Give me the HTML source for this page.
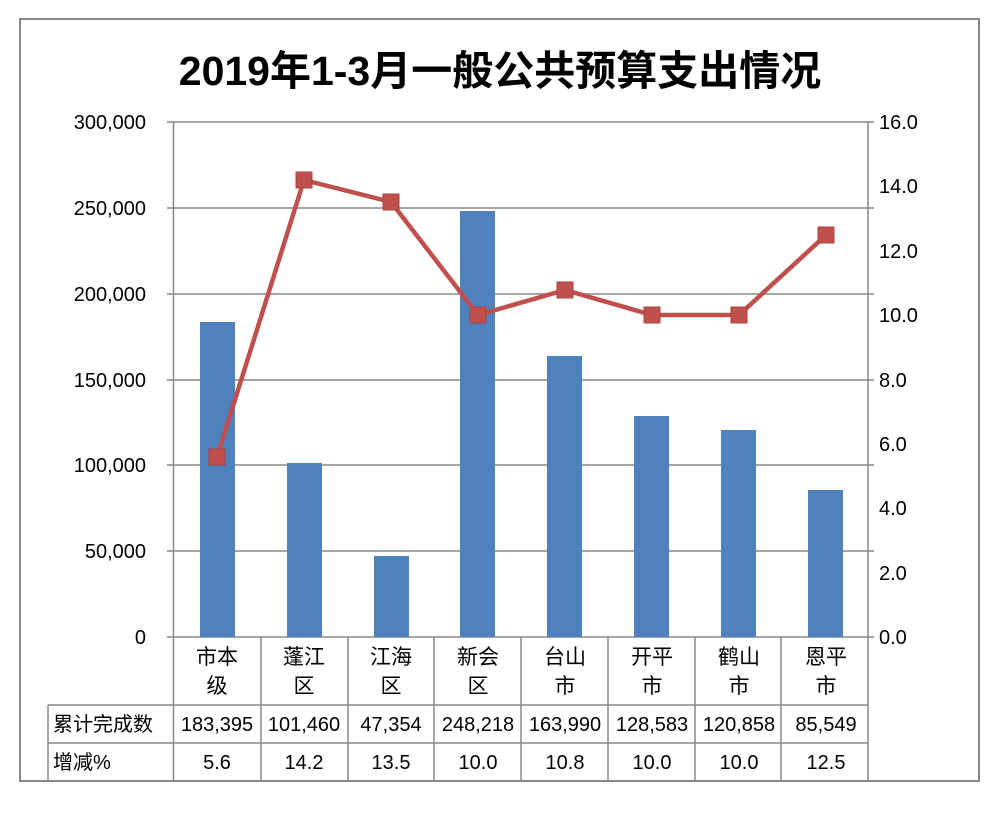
<!DOCTYPE html>
<html><head><meta charset="utf-8"><style>
body{margin:0;background:#fff;}
svg text{font-family:"Liberation Sans","Noto Sans CJK SC",sans-serif;}
</style></head><body>
<svg width="1000" height="810" xmlns="http://www.w3.org/2000/svg">
<rect x="20" y="19" width="959" height="762" fill="#fff" stroke="#888" stroke-width="2"/>
<text x="500" y="85" text-anchor="middle" font-size="41" font-weight="bold" fill="#000">2019年1-3月一般公共预算支出情况</text>
<g stroke="#888" stroke-width="1.5">
<line x1="167" y1="122" x2="874" y2="122"/>
<line x1="167" y1="208" x2="874" y2="208"/>
<line x1="167" y1="294" x2="874" y2="294"/>
<line x1="167" y1="380" x2="874" y2="380"/>
<line x1="167" y1="465" x2="874" y2="465"/>
<line x1="167" y1="551" x2="874" y2="551"/>
<line x1="167" y1="637" x2="874" y2="637"/>
<line x1="173.5" y1="122" x2="173.5" y2="781"/>
<line x1="868" y1="122" x2="868" y2="781"/>
<line x1="261" y1="637" x2="261" y2="781"/>
<line x1="348" y1="637" x2="348" y2="781"/>
<line x1="434" y1="637" x2="434" y2="781"/>
<line x1="521" y1="637" x2="521" y2="781"/>
<line x1="608" y1="637" x2="608" y2="781"/>
<line x1="695" y1="637" x2="695" y2="781"/>
<line x1="781" y1="637" x2="781" y2="781"/>
<line x1="48" y1="705" x2="868" y2="705"/>
<line x1="48" y1="743" x2="868" y2="743"/>
<line x1="48" y1="705" x2="48" y2="781"/>
</g>
<g font-size="20" fill="#000" text-anchor="end">
<text x="146" y="129">300,000</text><text x="146" y="215">250,000</text><text x="146" y="301">200,000</text>
<text x="146" y="387">150,000</text><text x="146" y="472">100,000</text><text x="146" y="558">50,000</text><text x="146" y="644">0</text>
</g>
<g font-size="20" fill="#000">
<text x="879" y="129">16.0</text><text x="879" y="193">14.0</text><text x="879" y="258">12.0</text><text x="879" y="322">10.0</text>
<text x="879" y="387">8.0</text><text x="879" y="451">6.0</text><text x="879" y="515">4.0</text><text x="879" y="580">2.0</text><text x="879" y="644">0.0</text>
</g>
<g fill="#4F81BD">
<rect x="200" y="322" width="35" height="315"/>
<rect x="287" y="463" width="35" height="174"/>
<rect x="374" y="556" width="35" height="81"/>
<rect x="460" y="211" width="35" height="426"/>
<rect x="547" y="356" width="35" height="281"/>
<rect x="634" y="416" width="35" height="221"/>
<rect x="721" y="430" width="35" height="207"/>
<rect x="808" y="490" width="35" height="147"/>
</g>
<polyline points="217,457 304,180 391,202 478,315 565,290 652,315 739,315 826,235" fill="none" stroke="#C0504D" stroke-width="4.5" stroke-linejoin="round"/>
<g fill="#C0504D" stroke="#A84542" stroke-width="1">
<rect x="209" y="449" width="16" height="16"/><rect x="296" y="172" width="16" height="16"/>
<rect x="383" y="194" width="16" height="16"/><rect x="470" y="307" width="16" height="16"/>
<rect x="557" y="282" width="16" height="16"/><rect x="644" y="307" width="16" height="16"/>
<rect x="731" y="307" width="16" height="16"/><rect x="818" y="227" width="16" height="16"/>
</g>
<g font-size="21" fill="#000" text-anchor="middle">
<text x="217" y="664">市本</text><text x="217" y="693">级</text>
<text x="304" y="664">蓬江</text><text x="304" y="693">区</text>
<text x="391" y="664">江海</text><text x="391" y="693">区</text>
<text x="478" y="664">新会</text><text x="478" y="693">区</text>
<text x="565" y="664">台山</text><text x="565" y="693">市</text>
<text x="652" y="664">开平</text><text x="652" y="693">市</text>
<text x="739" y="664">鹤山</text><text x="739" y="693">市</text>
<text x="826" y="664">恩平</text><text x="826" y="693">市</text>
</g>
<g font-size="20" fill="#000" text-anchor="middle">
<text x="217" y="731">183,395</text><text x="304" y="731">101,460</text><text x="391" y="731">47,354</text><text x="478" y="731">248,218</text>
<text x="565" y="731">163,990</text><text x="652" y="731">128,583</text><text x="739" y="731">120,858</text><text x="826" y="731">85,549</text>
<text x="217" y="769">5.6</text><text x="304" y="769">14.2</text><text x="391" y="769">13.5</text><text x="478" y="769">10.0</text>
<text x="565" y="769">10.8</text><text x="652" y="769">10.0</text><text x="739" y="769">10.0</text><text x="826" y="769">12.5</text>
</g>
<text x="53" y="731" font-size="20" fill="#000">累计完成数</text>
<text x="53" y="769" font-size="20" fill="#000">增减%</text>
</svg>
</body></html>
